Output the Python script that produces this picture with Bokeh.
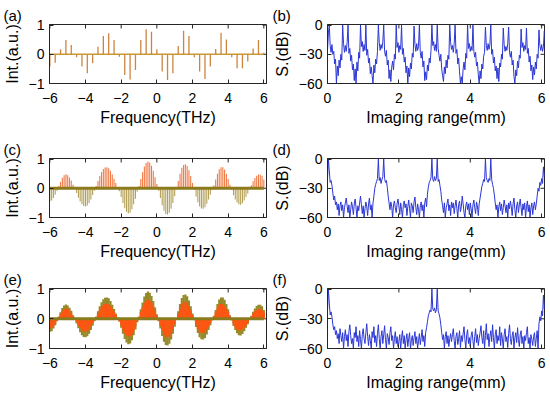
import math
from bokeh.plotting import figure
from bokeh.layouts import column, row
from bokeh.embed import file_html
from bokeh.resources import INLINE
from bokeh.models import FixedTicker

# ---------------- data ----------------
# (a) coarse comb spectrum, 0.3 THz spacing
freq_a = [round(-6.0 + 0.3 * i, 1) for i in range(41)]
amp_a = [-0.42, -0.29, 0.17, 0.49, 0.32, -0.10, -0.42, -0.65, -0.31, 0.26,
         0.63, 0.72, 0.49, -0.08, -0.71, -0.86, -0.54, 0.49, 0.86, 0.77,
         0.17, -0.59, -0.88, -0.65, 0.28, 0.81, 0.63, -0.10, -0.59, -0.85,
         -0.42, 0.18, 0.74, 0.51, -0.10, -0.48, -0.48, -0.25, 0.20, 0.49, 0.05]

# (c) and (e) dense comb spectrum, 0.1 THz spacing
freq_ce = [round(-6.0 + 0.1 * i, 1) for i in range(121)]
amp_c = [-0.44, -0.42, -0.33, -0.22, -0.08, 0.08, 0.22, 0.36, 0.45, 0.48,
         0.45, 0.37, 0.27, 0.12, -0.02, -0.16, -0.32, -0.45, -0.55, -0.61,
         -0.62, -0.59, -0.50, -0.38, -0.23, -0.08, 0.08, 0.25, 0.42, 0.56,
         0.66, 0.71, 0.72, 0.69, 0.60, 0.47, 0.33, 0.18, 0.04, -0.10,
         -0.30, -0.50, -0.68, -0.80, -0.86, -0.83, -0.72, -0.55, -0.36, -0.12,
         0.08, 0.32, 0.55, 0.75, 0.87, 0.92, 0.88, 0.77, 0.60, 0.38,
         0.15, -0.08, -0.33, -0.58, -0.77, -0.88, -0.90, -0.84, -0.70, -0.50,
         -0.27, -0.02, 0.25, 0.50, 0.70, 0.80, 0.82, 0.76, 0.62, 0.42,
         0.18, -0.05, -0.28, -0.48, -0.62, -0.69, -0.70, -0.65, -0.53, -0.38,
         -0.22, -0.06, 0.10, 0.30, 0.50, 0.65, 0.72, 0.72, 0.64, 0.50,
         0.32, 0.12, -0.06, -0.24, -0.38, -0.49, -0.55, -0.56, -0.51, -0.42,
         -0.30, -0.18, -0.04, 0.10, 0.24, 0.35, 0.43, 0.47, 0.47, 0.42, 0.30]
amp_e_outer = amp_c
amp_e_inner = [-0.32, -0.30, -0.24, -0.16, -0.06, 0.06, 0.16, 0.26, 0.33, 0.35,
               0.33, 0.27, 0.19, 0.09, -0.01, -0.11, -0.23, -0.32, -0.39, -0.43,
               -0.44, -0.42, -0.36, -0.27, -0.16, -0.06, 0.06, 0.18, 0.30, 0.40,
               0.46, 0.50, 0.51, 0.49, 0.42, 0.33, 0.23, 0.13, 0.03, -0.07,
               -0.21, -0.35, -0.48, -0.56, -0.60, -0.58, -0.50, -0.39, -0.25, -0.08,
               0.06, 0.22, 0.39, 0.53, 0.61, 0.64, 0.62, 0.54, 0.42, 0.27,
               0.11, -0.06, -0.23, -0.41, -0.54, -0.62, -0.63, -0.59, -0.49, -0.35,
               -0.19, -0.01, 0.18, 0.35, 0.49, 0.56, 0.57, 0.53, 0.43, 0.29,
               0.13, -0.04, -0.20, -0.34, -0.43, -0.48, -0.49, -0.46, -0.37, -0.27,
               -0.15, -0.04, 0.07, 0.21, 0.35, 0.46, 0.50, 0.50, 0.45, 0.35,
               0.22, 0.08, -0.04, -0.17, -0.27, -0.34, -0.39, -0.39, -0.36, -0.29,
               -0.21, -0.13, -0.03, 0.07, 0.17, 0.25, 0.30, 0.33, 0.33, 0.29, 0.21]

# (b), (d), (f) imaging range profiles, 0.025 mm spacing
range_mm = [round(0.025 * i, 3) for i in range(245)]
sig_b = [-26, -8, 0, -21, -28, -20, -30, -27, -40, -35,
         -60, -42, -52, -36, -44, -30, -36, 0, -19, -28, -21, -27, -18, 0, -29, -24, -37, -31, -46, -40,
         -57, -45, -60, -38, -47, -28, -34, 0, -22, -17, -27, -20, -26, 0, -31, -25, -39, -34, -50, -43,
         -52, -60, -41, -49, -35, -40, -27, 0, -18, -26, -20, -24, -17, 0, -27, -32, -26, -41, -36, -55,
         -46, -58, -43, -37, -46, -30, -35, 0, -23, -18, -28, -21, -25, 0, -30, -24, -38, -33, -49, -42,
         -60, -44, -53, -39, -45, -29, -33, -1, -20, -27, -19, -26, -22, 0, -28, -34, -27, -43, -37, -57,
         -48, -56, -41, -47, -34, -39, -26, 0, -21, -17, -26, -20, -27, 0, -24, -31, -37, -30, -45, -52,
         -58, -43, -50, -36, -44, -31, -35, 0, -18, -25, -21, -28, -19, 0, -29, -25, -40, -34, -48, -60,
         -53, -60, -45, -38, -46, -29, -34, 0, -24, -19, -27, -22, -26, 0, -27, -33, -28, -42, -38, -51,
         -60, -47, -55, -40, -45, -32, -28, -2, -21, -26, -19, -25, -20, 0, -30, -25, -39, -33, -47, -42,
         -55, -44, -58, -39, -43, -30, -35, -3, -20, -27, -22, -26, -19, -2, -28, -33, -27, -41, -36, -53,
         -60, -46, -52, -37, -44, -31, -34, -4, -23, -18, -27, -21, -25, -3, -29, -24, -38, -32, -47, -41,
         -56, -43, -51, -38, -45, -30, -34, -5, -21, -26, -20, -27, -22, -6, -29]
sig_d = [-20, 0, -12, -24, -22, -27, -35, -42, -38, -47, -44, -52, -46, -58, -48, -44, -53, -47, -60, -50,
         -45, -40, -48, -55, -47, -60, -52, -44, -49, -57, -46, -41, -50, -60, -48, -53, -45, -38, -47, -56,
         -48, -60, -51, -44, -49, -58, -46, -40, -52, -47, -60, -45, -38, -30, -26, -23, -20, 0, -22, -19,
         -25, -21, -18, 0, -20, -24, -22, -29, -38, -45, -52, -44, -49, -60, -47, -43, -50, -55, -46, -41,
         -48, -57, -45, -52, -60, -47, -43, -50, -46, -58, -49, -42, -51, -60, -45, -48, -55, -44, -39, -50,
         -57, -46, -52, -60, -48, -44, -53, -47, -60, -45, -40, -49, -36, -29, -24, -22, -19, 0, -21, -23,
         -18, -22, -20, 0, -23, -21, -27, -33, -42, -48, -55, -45, -60, -50, -46, -41, -53, -47, -58, -44,
         -50, -45, -56, -48, -42, -51, -60, -47, -43, -54, -49, -38, -46, -55, -60, -48, -44, -52, -46, -57,
         -45, -51, -60, -47, -42, -50, -56, -44, -48, -58, -46, -40, -34, -28, -25, -21, -23, 0, -19, -22,
         -24, -20, -22, 0, -21, -26, -30, -37, -45, -52, -47, -60, -49, -44, -53, -46, -57, -50, -42, -48,
         -55, -47, -60, -45, -51, -43, -49, -58, -46, -40, -52, -60, -48, -44, -55, -47, -41, -50, -58, -46,
         -52, -45, -60, -49, -43, -54, -47, -60, -50, -45, -57, -48, -44, -52, -46, -38, -30, -33, -24, -27,
         -20, -25, -8, -18, -12]
sig_f = [-22, 0, -14, -26, -23, -28, -36, -41, -38, -46, -42, -50, -45, -55, -40, -47, -53, -44, -60, -48,
         -41, -52, -46, -58, -43, -36, -47, -55, -50, -60, -44, -49, -38, -53, -47, -58, -42, -51, -60, -46,
         -40, -50, -55, -44, -35, -48, -57, -46, -52, -60, -43, -49, -38, -54, -47, -58, -45, -36, -50, -60,
         -48, -42, -55, -46, -37, -51, -60, -45, -49, -56, -44, -38, -52, -47, -60, -50, -43, -55, -48, -58,
         -53, -46, -60, -49, -42, -55, -47, -60, -51, -45, -58, -50, -44, -60, -52, -47, -57, -49, -43, -55,
         -48, -60, -52, -45, -56, -49, -41, -53, -47, -58, -44, -39, -33, -27, -24, -21, -23, 0, -20, -22,
         -19, -24, -21, 0, -22, -25, -29, -36, -44, -51, -46, -60, -48, -43, -55, -47, -58, -50, -45, -53,
         -46, -40, -52, -60, -48, -44, -56, -50, -42, -59, -47, -53, -45, -38, -51, -60, -46, -41, -55, -49,
         -58, -47, -43, -52, -60, -48, -40, -54, -46, -57, -50, -44, -37, -49, -55, -42, -60, -47, -35, -51,
         -45, -58, -48, -42, -53, -36, -49, -60, -46, -41, -55, -47, -52, -38, -57, -44, -50, -60, -46, -40,
         -53, -48, -59, -45, -36, -50, -56, -47, -43, -60, -49, -44, -54, -39, -51, -58, -46, -42, -55, -48,
         -60, -47, -52, -44, -38, -55, -49, -60, -46, -51, -57, -48, -44, -58, -50, -42, -60, -35, -28, -32,
         -22, -27, -6, -20, -10]

freq_ticks = [-6, -4, -2, 0, 2, 4, 6]
int_ticks = [-1, 0, 1]
range_ticks = [0, 2, 4, 6]
db_ticks = [-60, -30, 0]

FONT = "Liberation Sans"
AX = "#262626"


def make_fig(label, left_col, top, bottom, fig_h, xr, yr, xt, yt, xlabel, ylabel):
    if left_col:
        mbl, mbr, fig_w = 48, 4, 270
    else:
        mbl, mbr, fig_w = 57, 5, 279
    p = figure(width=fig_w, height=fig_h, x_range=xr, y_range=yr,
               output_backend="svg", toolbar_location=None, title=label,
               min_border_left=mbl, min_border_right=mbr,
               min_border_top=top, min_border_bottom=bottom,
               background_fill_color="white", border_fill_color="white")
    p.title.align = "left"
    p.title.offset = -(mbl - 2)
    p.title.text_font = FONT
    p.title.text_font_size = "15px"
    p.title.text_font_style = "normal"
    p.title.text_color = "black"
    p.title.standoff = 2
    p.xgrid.visible = False
    p.ygrid.visible = False
    p.outline_line_color = AX
    p.outline_line_width = 1
    p.outline_line_alpha = 1
    p.xaxis.ticker = FixedTicker(ticks=xt)
    p.yaxis.ticker = FixedTicker(ticks=yt)
    p.xaxis.axis_label = xlabel
    p.yaxis.axis_label = ylabel
    for ax in (p.xaxis, p.yaxis):
        ax.axis_line_color = AX
        ax.major_tick_line_color = AX
        ax.major_tick_in = 4
        ax.major_tick_out = 0
        ax.minor_tick_in = 0
        ax.minor_tick_out = 0
        ax.major_label_text_font = FONT
        ax.major_label_text_font_size = "14px"
        ax.major_label_text_color = "black"
        ax.axis_label_text_font = FONT
        ax.axis_label_text_font_size = "16px"
        ax.axis_label_text_font_style = "normal"
        ax.axis_label_text_color = "black"
    p.xaxis.major_label_standoff = 9
    p.xaxis.axis_label_standoff = 3
    p.yaxis.major_label_standoff = 5
    p.yaxis.axis_label_standoff = 5
    # mirrored inward ticks on the top and right edges of the box
    p.scatter(x=xt, y=[yr[1]] * len(xt), marker="dash", size=8, angle=math.pi / 2,
              line_color=AX, line_width=1)
    p.scatter(x=[xr[1]] * len(yt), y=yt, marker="dash", size=8,
              line_color=AX, line_width=1)
    return p


FREQ_R = (-6.02, 6.15)
INT_R = (-1.0, 1.02)
MM_R = (0.0, 6.08)
DB_R = (-60.0, 0.6)

rows_cfg = [(24, 50, 133), (25, 47, 131), (24, 47, 131)]

# ---- (a)
t, b, h = rows_cfg[0]
pa = make_fig("(a)", True, t, b, h, FREQ_R, INT_R, freq_ticks, int_ticks, "Frequency(THz)", "Int.(a.u.)")
pa.line(freq_a, [0] * len(freq_a), color="#C99A35", line_width=1.6)
pa.segment(x0=freq_a, y0=[0] * len(freq_a), x1=freq_a, y1=amp_a, color="#CC8540", line_width=1.3)

# ---- (b)
pb = make_fig("(b)", False, t, b, h, MM_R, DB_R, range_ticks, db_ticks, "Imaging range(mm)", "S.(dB)")
pb.line(range_mm, sig_b, color="#2B36D4", line_width=1)

# ---- (c)
t, b, h = rows_cfg[1]
pc = make_fig("(c)", True, t, b, h, FREQ_R, INT_R, freq_ticks, int_ticks, "Frequency(THz)", "Int.(a.u.)")
c_colors = ["#EF7A45" if v > 0 else "#B3A057" for v in amp_c]
pc.segment(x0=freq_ce, y0=[0] * len(freq_ce), x1=freq_ce, y1=amp_c, color=c_colors, line_width=1.1)
pc.line(freq_ce, [0] * len(freq_ce), color="#8C7B1C", line_width=3)

# ---- (d)
pd_ = make_fig("(d)", False, t, b, h, MM_R, DB_R, range_ticks, db_ticks, "Imaging range(mm)", "S.(dB)")
pd_.line(range_mm, sig_d, color="#2B36D4", line_width=1)

# ---- (e)
t, b, h = rows_cfg[2]
pe = make_fig("(e)", True, t, b, h, FREQ_R, INT_R, freq_ticks, int_ticks, "Frequency(THz)", "Int.(a.u.)")
pe.segment(x0=freq_ce, y0=[0] * len(freq_ce), x1=freq_ce, y1=amp_e_outer, color="#958A2A", line_width=2.2)
pe.segment(x0=freq_ce, y0=[0] * len(freq_ce), x1=freq_ce, y1=amp_e_inner, color="#FF5512", line_width=2.2)
pe.line(freq_ce, [0] * len(freq_ce), color="#8C7B1C", line_width=3)

# ---- (f)
pf = make_fig("(f)", False, t, b, h, MM_R, DB_R, range_ticks, db_ticks, "Imaging range(mm)", "S.(dB)")
pf.line(range_mm, sig_f, color="#2B36D4", line_width=1)

layout = column(row(pa, pb), row(pc, pd_), row(pe, pf))

html = file_html(layout, INLINE, title="chart")
html = html.replace("</head>", "<style>html,body{margin:0;padding:0;overflow:hidden;}</style></head>", 1)
open("out.html", "w").write(html)
